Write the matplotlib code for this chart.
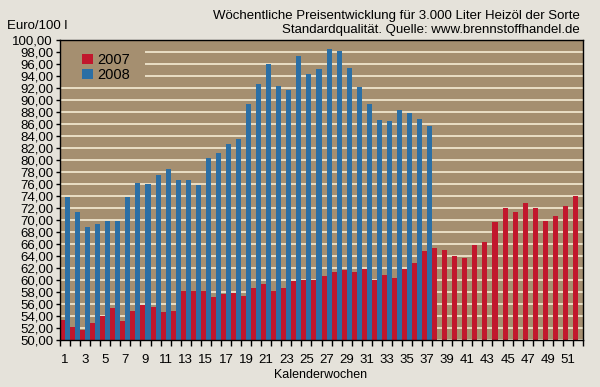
import matplotlib
matplotlib.use("Agg")
from matplotlib import pyplot as plt
from matplotlib.patches import Rectangle
import numpy as np

plt.rcParams['font.family'] = ['Liberation Sans', 'DejaVu Sans']

# Kalenderwochen und Preise (Euro/100 l)
wochen_2007 = list(range(1, 53))
preis_2007 = [53.4, 52.2, 51.6, 52.9, 54.0, 55.4, 53.2, 54.8, 55.9, 55.5, 54.7, 54.8,
              58.2, 58.1, 58.2, 57.2, 57.6, 57.8, 57.4, 58.7, 59.3, 58.1, 58.7, 59.8,
              60.0, 60.0, 60.7, 61.4, 61.6, 61.3, 61.9, 60.0, 60.8, 60.3, 61.8, 62.9,
              64.8, 65.4, 65.0, 64.0, 63.7, 65.9, 66.4, 69.6, 72.0, 71.3, 72.9, 72.0,
              69.9, 70.7, 72.4, 74.0]
wochen_2008 = list(range(1, 38))
preis_2008 = [73.9, 71.4, 68.8, 69.3, 69.8, 69.9, 73.9, 76.2, 76.0, 77.5, 78.5, 76.7,
              76.7, 75.8, 80.4, 81.1, 82.7, 83.5, 89.3, 92.7, 96.0, 92.3, 91.7, 97.3,
              94.4, 95.1, 98.5, 98.2, 95.3, 92.1, 89.4, 86.6, 86.5, 88.4, 87.8, 86.8,
              85.6]
jahre = ['2007', '2008']

bg = '#e5e2da'
tan = '#a58f70'
rot = '#c1172d'
blau = '#2b6fa5'
grid = '#efe5cc'

fig = plt.figure(figsize=(6, 3.87), dpi=100, facecolor=bg)
ax = fig.add_axes([60/600, 47/387, 523/600, 300/387])
ax.set_facecolor(tan)

x7 = np.array(wochen_2007)
x8 = np.array(wochen_2008)
b1 = ax.bar(x7 - 0.25, preis_2007, width=0.5, color=rot, label=jahre[0], zorder=2)
b2 = ax.bar(x8 + 0.25, preis_2008, width=0.5, color=blau, label=jahre[1], zorder=2)

ax.set_xlim(0.5, 52.5)
ax.set_ylim(50, 100)

yt = np.arange(50, 101, 2)
ax.set_yticks(yt)
ax.set_yticklabels([('%.2f' % v).replace('.', ',') for v in yt], fontsize=9.5)
ax.yaxis.grid(True, color=grid, lw=1.3)
ax.set_axisbelow(True)

ax.set_xticks(np.arange(0.5, 53, 1))
ax.set_xticklabels([])
ax.set_xticks(range(1, 53, 2), [str(w) for w in range(1, 53, 2)], minor=True)
ax.tick_params(axis='x', which='major', direction='out', length=4, width=1)
ax.tick_params(axis='x', which='minor', length=0, labelsize=9.5, pad=10)
ax.tick_params(axis='y', direction='out', length=3, width=1, pad=2)

for s in ax.spines.values():
    s.set_color('black')
    s.set_linewidth(1)

# Legendenhintergrund verdeckt die Gitterlinien
ax.add_patch(Rectangle((0, 0.86), 85/523, 0.14, transform=ax.transAxes,
                       facecolor=tan, edgecolor='none', zorder=1))
ax.legend(handles=[b1, b2], loc='upper left', bbox_to_anchor=(0.043, 0.955),
          frameon=False, fontsize=10.5, handlelength=0.7, handleheight=0.7,
          handletextpad=0.3, labelspacing=0.05, borderaxespad=0, borderpad=0)

fig.text(580/600, 1 - 10/387,
         'Wöchentliche Preisentwicklung für 3.000 Liter Heizöl der Sorte\n'
         'Standardqualität. Quelle: www.brennstoffhandel.de',
         ha='right', va='top', fontsize=9.5, linespacing=1.25)
fig.text(7/600, 1 - 26/387, 'Euro/100 l', ha='left', va='center', fontsize=9.5)
fig.text(321/600, 1 - 375/387, 'Kalenderwochen', ha='center', va='center', fontsize=9)

fig.savefig('out.png', dpi=100, facecolor=bg)
